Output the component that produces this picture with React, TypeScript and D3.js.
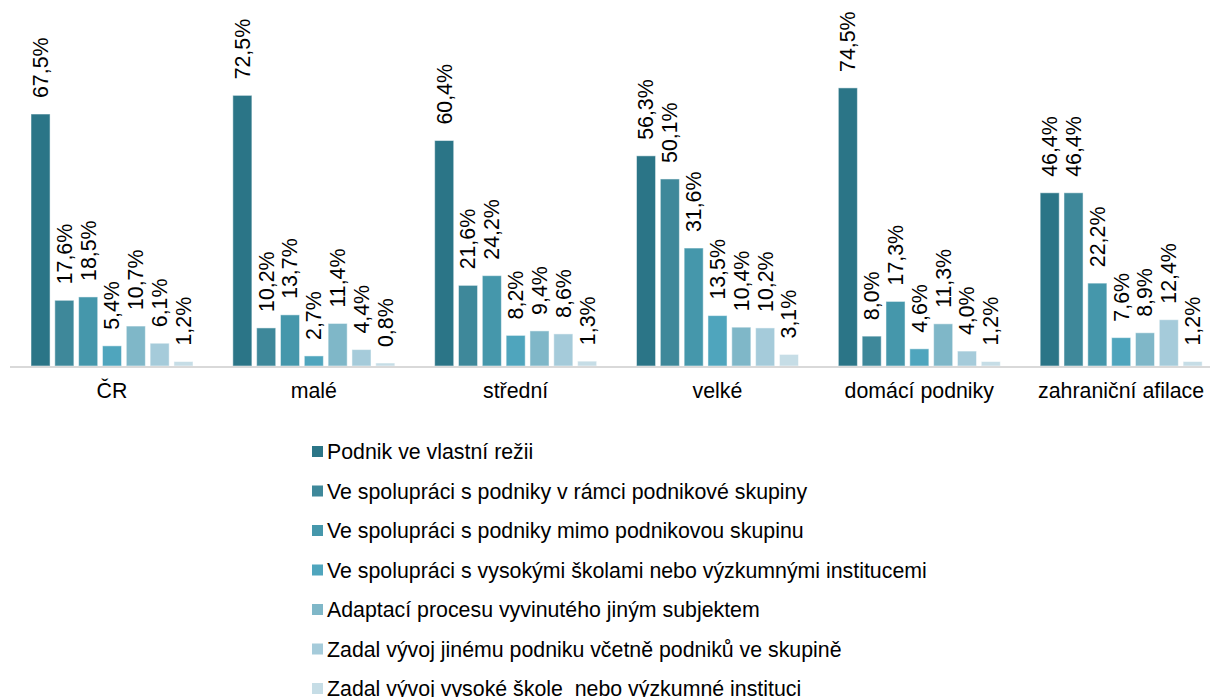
import React from 'react'
import * as d3 from 'd3';

const categories = ['ČR', 'malé', 'střední', 'velké', 'domácí podniky', 'zahraniční afilace'];

const seriesNames = [
  'Podnik ve vlastní režii',
  'Ve spolupráci s podniky v rámci podnikové skupiny',
  'Ve spolupráci s podniky mimo podnikovou skupinu',
  'Ve spolupráci s vysokými školami nebo výzkumnými institucemi',
  'Adaptací procesu vyvinutého jiným subjektem',
  'Zadal vývoj jinému podniku včetně podniků ve skupině',
  'Zadal vývoj vysoké škole  nebo výzkumné instituci',
];

const vlastniRezie = [67.5, 72.5, 60.4, 56.3, 74.5, 46.4];
const vRamciSkupiny = [17.6, 10.2, 21.6, 50.1, 8.0, 46.4];
const mimoSkupinu = [18.5, 13.7, 24.2, 31.6, 17.3, 22.2];
const vysokeSkoly = [5.4, 2.7, 8.2, 13.5, 4.6, 7.6];
const adaptace = [10.7, 11.4, 9.4, 10.4, 11.3, 8.9];
const zadalPodniku = [6.1, 4.4, 8.6, 10.2, 4.0, 12.4];
const zadalSkole = [1.2, 0.8, 1.3, 3.1, 1.2, 1.2];

const seriesValues = [vlastniRezie, vRamciSkupiny, mimoSkupinu, vysokeSkoly, adaptace, zadalPodniku, zadalSkole];

const colors = ['#2b7587', '#3e889a', '#4597ab', '#4fa5bd', '#7fb7c8', '#a5cbda', '#c6dde6'];

const FONT = '"Liberation Sans", Arial, sans-serif';
const FS = 21.33;

const fmt = (v: number) => v.toFixed(1).replace('.', ',') + '%';

const App = () => {
  const width = 1210;
  const height = 697;
  const baseY = 366;

  const x0 = d3.scaleBand<string>().domain(categories).range([10, 1221]);
  const x1 = d3.scaleBand<number>()
    .domain(d3.range(seriesNames.length))
    .range([21, 183])
    .paddingInner(0.2);
  const y = d3.scaleLinear().domain([0, 100]).range([baseY, baseY - 373.3]);

  return (
    <svg width={width} height={height} style={{ position: 'absolute', left: 0, top: 0 }} fontFamily={FONT}>
      <g>
        {categories.map((cat, ci) => (
          <g key={cat} transform={`translate(${x0(cat)},0)`}>
            {seriesValues.map((vals, si) => {
              const v = vals[ci];
              const bx = x1(si) as number;
              const cx = bx + x1.bandwidth() / 2;
              const ty = y(v) - 16;
              return (
                <g key={si}>
                  <rect x={bx} y={y(v)} width={x1.bandwidth()} height={baseY - y(v)}
                    fill={colors[si]} stroke="#ffffff" strokeOpacity={0.5} strokeWidth={1} />
                  <text transform={`translate(${cx},${ty}) rotate(-90)`} dy="0.35em"
                    fontSize={FS} fill="#000">{fmt(v)}</text>
                </g>
              );
            })}
            <text x={x0.bandwidth() / 2 + 1} y={398} textAnchor="middle" fontSize={FS} fill="#000">{cat}</text>
          </g>
        ))}
      </g>
      <line x1={10} x2={width} y1={baseY + 1} y2={baseY + 1} stroke="#d9d9d9" strokeWidth={2} />
      <g transform="translate(312,0)">
        {seriesNames.map((name, i) => {
          const ly = 452 + i * 39.5;
          return (
            <g key={name}>
              <rect x={0} y={ly - 6} width={11} height={11} fill={colors[i]} />
              <text x={15} y={ly} dy="0.35em" fontSize={FS} fill="#000" style={{ whiteSpace: 'pre' }}>{name}</text>
            </g>
          );
        })}
      </g>
    </svg>
  )
}

export default App
